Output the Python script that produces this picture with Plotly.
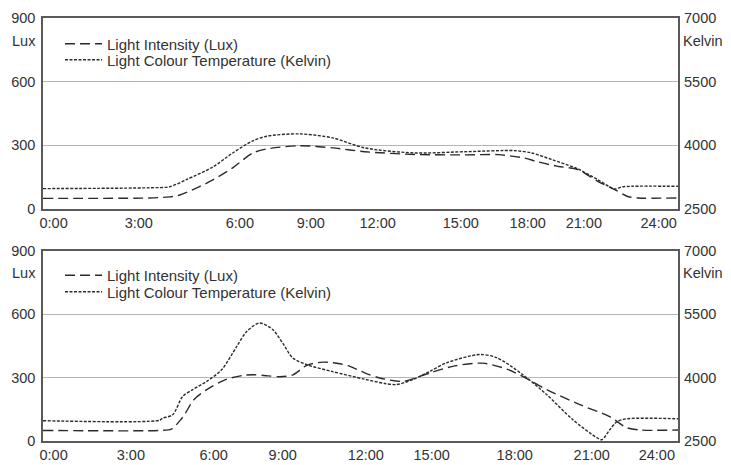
import plotly.graph_objects as go
from plotly.subplots import make_subplots

# ---------------- data ----------------
series_names = ["Light Intensity (Lux)", "Light Colour Temperature (Kelvin)"]
tick_labels = ["0:00", "3:00", "6:00", "9:00", "12:00", "15:00", "18:00", "21:00", "24:00"]
# hour values at which the (hand-placed) time labels sit on each axis
top_tick_hours = [0.40, 3.62, 7.44, 10.12, 12.65, 15.79, 18.32, 20.44, 23.27]
bottom_tick_hours = [0.40, 3.32, 6.45, 9.06, 12.20, 14.69, 17.83, 20.74, 23.20]

top_lux_hours = [0, 4.03, 4.79, 5.17, 5.92, 6.42, 7.17, 7.93, 8.46, 9.70, 10.95, 12.16,
                 14.05, 15.94, 17.2, 18.2, 18.7, 19.46, 20.21, 20.97, 21.61, 22.10, 22.48, 24]
top_lux = [50, 52, 57, 66, 106, 137, 194, 264, 283, 298, 288, 270,
           257, 255, 256, 240, 222, 201, 186, 130, 91, 59, 52, 52]

top_kelvin_hours = [0, 4.03, 4.79, 5.43, 6.42, 7.17, 7.93, 8.46, 9.70, 10.95, 12.16, 14.05,
                    15.94, 17.83, 18.47, 19.23, 20.21, 20.97, 21.61, 21.88, 22.25, 24]
top_kelvin = [2980, 3000, 3025, 3195, 3490, 3820, 4105, 4215, 4270, 4175, 3940, 3820,
              3850, 3875, 3820, 3665, 3445, 3190, 2970, 3020, 3035, 3035]

bottom_lux_hours = [0, 4.41, 4.85, 5.2, 5.35, 5.7, 6.19, 6.9, 7.55, 8.0, 8.5, 8.95, 9.45, 9.97,
                    10.57, 11.22, 11.6, 12.16, 12.73, 13.60, 14.62, 15.56, 16.62, 17.53, 18.13,
                    19.04, 20.29, 21.42, 22.06, 22.55, 24]
bottom_lux = [50, 50, 56, 100, 125, 195, 243, 290, 310, 313, 308, 304, 313, 358,
              373, 365, 353, 322, 298, 282, 322, 355, 368, 340, 305,
              243, 172, 115, 63, 52, 52]

bottom_kelvin_hours = [0, 4.41, 4.52, 4.90, 5.28, 5.66, 6.19, 6.76, 7.32, 7.70, 8.19, 8.68, 9.06,
                       9.44, 9.97, 10.95, 12.16, 12.91, 13.37, 13.97, 14.62, 15.26, 16.51, 17.15,
                       18.13, 19.04, 20.02, 20.93, 21.12, 21.42, 21.69, 22.06, 24]
bottom_kelvin = [2980, 2990, 3040, 3120, 3555, 3715, 3910, 4190, 4735, 5090, 5290, 5135, 4815,
                 4465, 4305, 4140, 3960, 3860, 3835, 3950, 4145, 4350, 4545, 4470,
                 4070, 3595, 3005, 2580, 2530, 2765, 2955, 3025, 3025]

lux_ticks = [0, 300, 600, 900]
kelvin_ticks = [2500, 4000, 5500, 7000]

# ---------------- figure ----------------
FONT = "Liberation Sans, Arial, Helvetica, sans-serif"
LINE_COL = "#2b2b2b"
TXT_COL = "#333333"
axis_font = dict(family=FONT, size=14.5, color=TXT_COL)
leg_font = dict(family=FONT, size=15, color=TXT_COL)

fig = make_subplots(rows=2, cols=1, specs=[[{"secondary_y": True}], [{"secondary_y": True}]],
                    vertical_spacing=0.1)

panels = [
    (1, top_lux_hours, top_lux, top_kelvin_hours, top_kelvin, "legend", "legend2"),
    (2, bottom_lux_hours, bottom_lux, bottom_kelvin_hours, bottom_kelvin, "legend3", "legend4"),
]
for row, lh, lv, kh, kv, leg_a, leg_b in panels:
    fig.add_trace(go.Scatter(x=lh, y=lv, mode="lines", name=series_names[0], legend=leg_a,
                             showlegend=True,
                             line=dict(color=LINE_COL, width=1.4, dash="10px,5px",
                                       shape="spline", smoothing=0.8)),
                  row=row, col=1, secondary_y=False)
    fig.add_trace(go.Scatter(x=kh, y=kv, mode="lines", name=series_names[1], legend=leg_b,
                             showlegend=True,
                             line=dict(color=LINE_COL, width=1.4, dash="3px,1.5px",
                                       shape="spline", smoothing=0.8)),
                  row=row, col=1, secondary_y=True)

top_dom = [0.5485, 1.0]
bot_dom = [0.0, 0.45]


def leg(y):
    return dict(x=0.0268, y=y, xanchor="left", yanchor="middle", bgcolor="rgba(0,0,0,0)",
                font=leg_font, borderwidth=0, itemwidth=37, visible=True)


# page body adds an 8px offset, so the figure is 8px smaller and margins shifted
fig.update_layout(
    width=723, height=457,
    showlegend=True,
    margin=dict(l=35, r=53, t=10, b=24, autoexpand=False),
    paper_bgcolor="white", plot_bgcolor="white",
    font=dict(family=FONT, size=14.5, color=TXT_COL),
    legend=leg(0.9385), legend2=leg(0.9007), legend3=leg(0.3913), legend4=leg(0.3522),
    xaxis=dict(domain=[0, 1], range=[0, 24], tickvals=top_tick_hours, ticktext=tick_labels,
               showgrid=False, zeroline=False, showline=True, mirror=True, automargin=False,
               linecolor="#5a5a5a", linewidth=1.5, ticks="", tickfont=axis_font),
    xaxis2=dict(domain=[0, 1], range=[0, 24], tickvals=bottom_tick_hours, ticktext=tick_labels,
                showgrid=False, zeroline=False, showline=True, mirror=True, automargin=False,
                linecolor="#5a5a5a", linewidth=1.5, ticks="", tickfont=axis_font),
)

for ax, dom in (("yaxis", top_dom), ("yaxis3", bot_dom)):
    fig.layout[ax].update(domain=dom, range=[0, 900], tickvals=lux_ticks, showgrid=True,
                          gridcolor="#b5b5b5", gridwidth=1, zeroline=False, showline=True,
                          mirror=True, linecolor="#5a5a5a", linewidth=1.5, ticks="",
                          tickfont=axis_font, automargin=False, ticklabelstandoff=3)
for ax in ("yaxis2", "yaxis4"):
    fig.layout[ax].update(range=[2500, 7000], tickvals=kelvin_ticks, showgrid=False,
                          zeroline=False, showline=False, ticks="", tickfont=axis_font,
                          automargin=False, ticklabelstandoff=5)

for yref in ("y domain", "y3 domain"):
    fig.add_annotation(text="Lux", xref="paper", yref=yref, x=0, y=0.88, xanchor="right",
                       yanchor="middle", xshift=-5, showarrow=False, font=axis_font)
    fig.add_annotation(text="Kelvin", xref="paper", yref=yref, x=1, y=0.88, xanchor="left",
                       yanchor="middle", xshift=3, showarrow=False, font=axis_font)

fig.write_html("out.html")
